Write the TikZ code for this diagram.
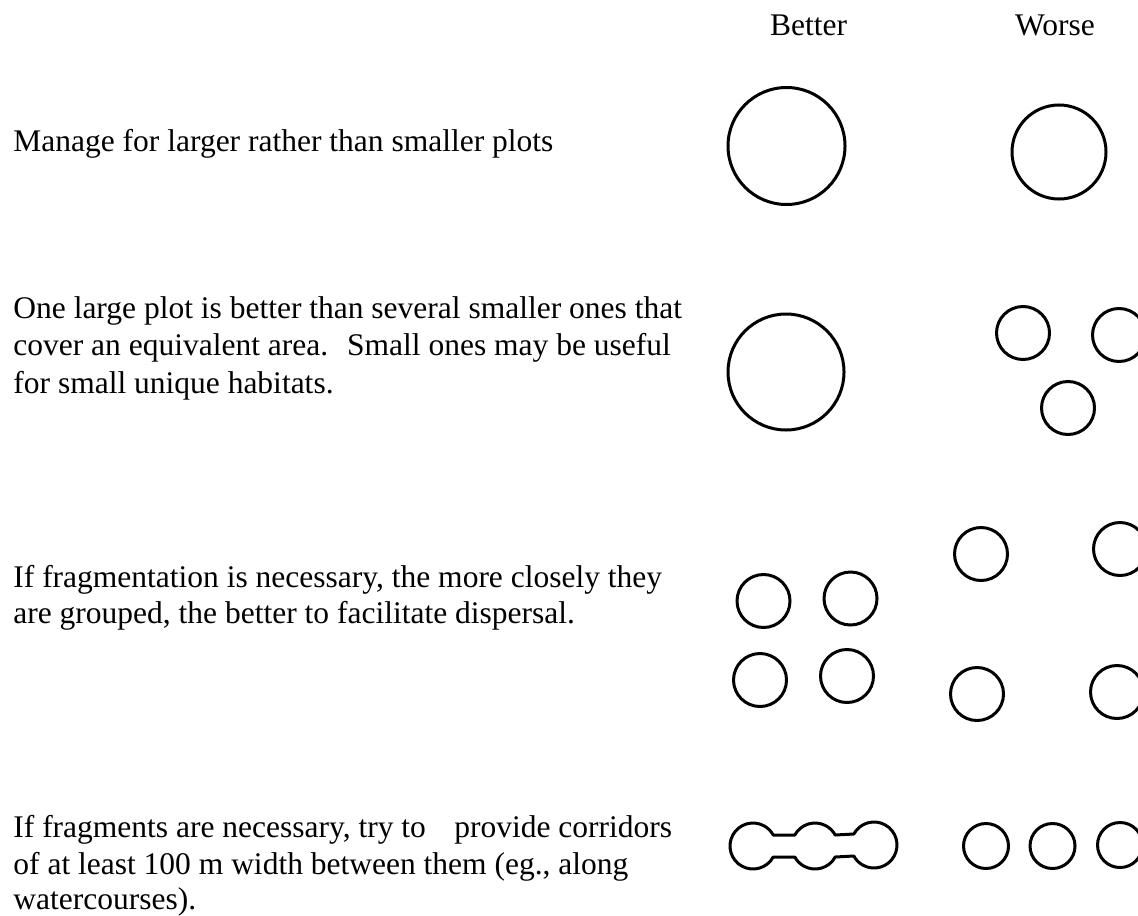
\documentclass[tikz,border=0pt]{standalone}
\usepackage{fontspec}
\setmainfont{Liberation Serif}
\usetikzlibrary{calc}
\begin{document}
\begin{tikzpicture}[x=0.5pt,y=-0.5pt,
  txt/.style={anchor=base west, inner sep=0pt, font=\fontsize{15.75pt}{18pt}\selectfont},
  hdr/.style={anchor=base, inner sep=0pt, font=\fontsize{15.75pt}{18pt}\selectfont},
  plot/.style={draw=black, line width=1.5pt},
  patch/.style={plot, circle, inner sep=0pt, outer sep=0pt}]
\useasboundingbox (0,0) rectangle (1138,915);
\clip (0,0) rectangle (1138,915);
\fill[white] (0,0) rectangle (1138,915);

% headers
\node[hdr] (better) at (808.5,36) {Better};
\node[hdr] (worse) at (1055,36) {Worse};

% texts
\node[txt] (t1) at (13,151) {Manage for larger rather than smaller plots};
\node[txt] (t2a) at (13,318) {One large plot is better than several smaller ones that};
\node[txt] (t2b) at (13,355.5) {cover an equivalent area.\hspace{0.6em}Small ones may be useful};
\node[txt] (t2c) at (13,393) {for small unique habitats.};
\node[txt] (t3a) at (13,587) {If fragmentation is necessary, the more closely they};
\node[txt] (t3b) at (13,623) {are grouped, the better to facilitate dispersal.};
\node[txt] (t4a) at (13,837) {If fragments are necessary, try to\hspace{0.9em}provide corridors};
\node[txt] (t4b) at (13,874) {of at least 100 m width between them (eg., along};
\node[txt] (t4c) at (13,909) {watercourses).};

% row 1
\node[patch, minimum size=58.5pt] (b1) at (786.5,146) {};
\node[patch, minimum size=47pt] (w1) at (1059,152) {};

% row 2
\node[patch, minimum size=58pt] (b2) at (786,372) {};
\node[patch, minimum size=26.5pt] (w2a) at (1023,333) {};
\node[patch, minimum size=26.5pt] (w2b) at (1119,335) {};
\node[patch, minimum size=26.5pt] (w2c) at (1068,408) {};

% row 3
\node[patch, minimum size=26.5pt] (b3a) at (763.5,601) {};
\node[patch, minimum size=26.5pt] (b3b) at (850.5,598.5) {};
\node[patch, minimum size=26.5pt] (b3c) at (760,680) {};
\node[patch, minimum size=26.5pt] (b3d) at (847,676) {};
\node[patch, minimum size=26.5pt] (w3a) at (981,554) {};
\node[patch, minimum size=26.5pt] (w3b) at (1120,549) {};
\node[patch, minimum size=26.5pt] (w3c) at (977,694) {};
\node[patch, minimum size=26.5pt] (w3d) at (1117,692) {};

% row 4: three plots joined by corridors
\coordinate (c1) at (753,846);
\coordinate (c2) at (815,846);
\coordinate (c3) at (874,845);
\draw[plot, line join=round]
  ($(c1)+(-28.57:23)$) -- ($(c2)+(-151.43:23)$)
  arc[start angle=-151.43, end angle=-28.57, radius=23]
  -- ($(c3)+(-151.43:23)$)
  arc[start angle=-151.43, end angle=151.43, radius=23]
  -- ($(c2)+(28.57:23)$)
  arc[start angle=28.57, end angle=151.43, radius=23]
  -- ($(c1)+(28.57:23)$)
  arc[start angle=28.57, end angle=331.43, radius=23] -- cycle;
\node[patch, minimum size=22.5pt] (w4a) at (986,846) {};
\node[patch, minimum size=22.5pt] (w4b) at (1052.5,846) {};
\node[patch, minimum size=22.5pt] (w4c) at (1120,845) {};
\end{tikzpicture}
\end{document}
